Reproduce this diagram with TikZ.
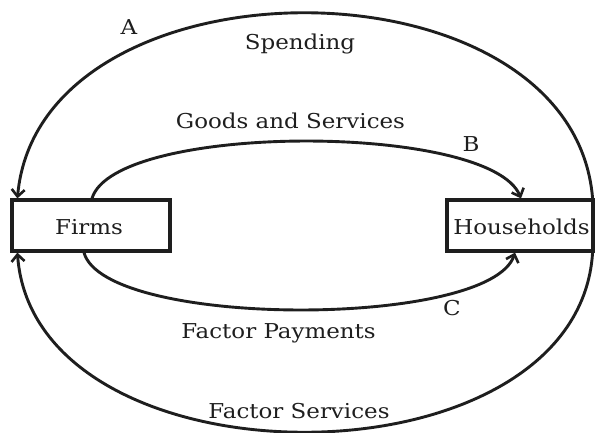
\documentclass[tikz,border=0pt]{standalone}
\usepackage{fontspec}
\setmainfont{DejaVu Serif}[FakeStretch=1.12]
\usetikzlibrary{arrows.meta,calc}
\definecolor{ink}{HTML}{1E1E1E}
\begin{document}
\begin{tikzpicture}[x=1pt,y=-1pt,
  box/.style={draw=ink,line width=3.2pt,inner sep=0pt},
  lbl/.style={inner sep=0pt,anchor=base,text=ink,font=\fontsize{20.5}{24}\selectfont},
  flow/.style={draw=ink,line width=2.9pt,-{Straight Barb[length=7pt,width=13pt,line width=2.6pt]}}]
\useasboundingbox (0,0) rectangle (595,433);
\node[box,minimum width=158pt,minimum height=51pt] (firms) at (91,225.5) {};
\node[box,minimum width=146pt,minimum height=51pt] (hh) at (520,225.5) {};
\node[lbl] (tf) at (89,235) {Firms};
\node[lbl] (th) at (521.5,235) {Households};
% flows
\draw[flow] ([xshift=-2pt]hh.north east) .. controls +(-20,-247) and +(22,-247) .. ([xshift=7pt]firms.north west);
\draw[flow] ([xshift=-2pt]hh.south east) .. controls +(-15,239) and +(17,239) .. ([xshift=7pt]firms.south west);
\draw[flow] ([xshift=1pt]firms.north) .. controls +(23,-76) and +(-31,-76) .. ([xshift=1pt]hh.north);
\draw[flow] ([xshift=-7pt]firms.south) .. controls +(21,76) and +(-25,76) .. ([xshift=-5pt]hh.south);
% labels
\node[lbl] (la) at (129,35) {A};
\node[lbl] (ls) at (300,50) {Spending};
\node[lbl] (lg) at (290.5,129) {Goods and Services};
\node[lbl] (lb) at (471,152) {B};
\node[lbl] (lp) at (278.5,338) {Factor Payments};
\node[lbl] (lc) at (452,315) {C};
\node[lbl] (lfs) at (299,418) {Factor Services};
\end{tikzpicture}
\end{document}
